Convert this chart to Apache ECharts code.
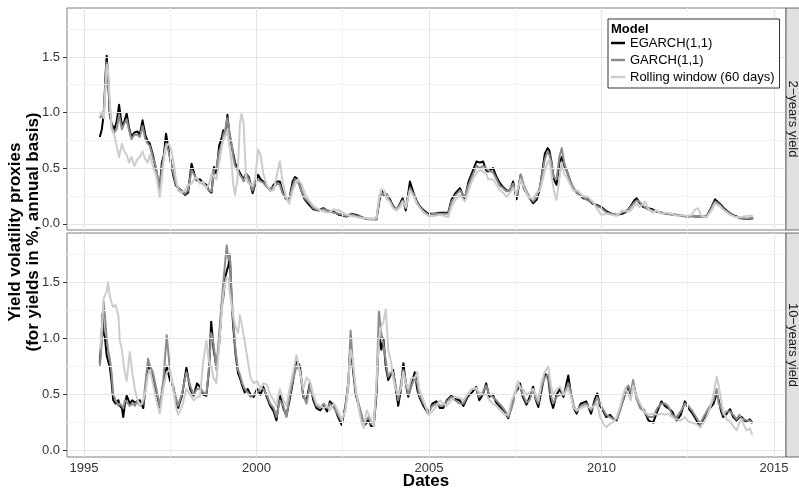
<!DOCTYPE html>
<html><head><meta charset="utf-8">
<script src="https://cdn.jsdelivr.net/npm/echarts@6/dist/echarts.min.js"></script>
<style>html,body{margin:0;padding:0;background:#fff}#c{width:799px;height:490px}</style>
</head><body><div id="c"></div>
<script>
// ---------- data ----------
const seriesNames = ['EGARCH(1,1)', 'GARCH(1,1)', 'Rolling window (60 days)'];
const panelNames = ['2\u2212years yield', '10\u2212years yield'];
const xTickLabels = [1995, 2000, 2005, 2010, 2015];
const yTickLabels = [0, 0.5, 1.0, 1.5];

// 2-years yield panel
const years2 = [
1995.46,1995.52,1995.58,1995.63,1995.66,1995.70,1995.75,1995.80,1995.88,1995.95,
1996.02,1996.10,1996.17,1996.24,1996.31,1996.38,1996.46,1996.55,1996.62,1996.70,
1996.78,1996.85,1996.91,1997.00,1997.08,1997.14,1997.20,1997.26,1997.32,1997.38,
1997.45,1997.52,1997.60,1997.66,1997.73,1997.82,1997.93,1998.02,1998.12,1998.20,
1998.27,1998.36,1998.45,1998.55,1998.62,1998.70,1998.77,1998.84,1998.92,1999.00,
1999.04,1999.10,1999.16,1999.22,1999.28,1999.33,1999.38,1999.45,1999.52,1999.57,
1999.63,1999.70,1999.78,1999.89,1999.96,2000.05,2000.12,2000.20,2000.30,2000.40,
2000.50,2000.60,2000.68,2000.75,2000.85,2000.95,2001.05,2001.12,2001.20,2001.30,
2001.40,2001.50,2001.65,2001.80,2001.94,2002.10,2002.23,2002.40,2002.61,2002.75,
2002.90,2003.05,2003.19,2003.35,2003.48,2003.56,2003.63,2003.70,2003.78,2003.87,
2003.96,2004.06,2004.16,2004.24,2004.33,2004.45,2004.55,2004.65,2004.74,2004.85,
2004.98,2005.15,2005.32,2005.45,2005.56,2005.66,2005.78,2005.90,2006.04,2006.15,
2006.24,2006.38,2006.48,2006.57,2006.66,2006.72,2006.86,2006.96,2007.06,2007.15,
2007.25,2007.35,2007.44,2007.54,2007.66,2007.75,2007.88,2008.02,2008.12,2008.22,
2008.30,2008.36,2008.44,2008.49,2008.55,2008.62,2008.70,2008.78,2008.85,2008.92,
2008.99,2009.10,2009.18,2009.30,2009.47,2009.60,2009.75,2009.86,2010.00,2010.15,
2010.30,2010.44,2010.60,2010.73,2010.85,2010.95,2011.02,2011.10,2011.21,2011.26,
2011.35,2011.48,2011.60,2011.75,2011.89,2012.05,2012.18,2012.35,2012.47,2012.62,
2012.72,2012.80,2012.90,2013.05,2013.19,2013.29,2013.36,2013.43,2013.55,2013.68,
2013.80,2013.92,2014.05,2014.20,2014.30,2014.40];
const egarch2 = [
0.78,0.85,1.00,1.35,1.51,1.30,0.98,0.90,0.85,0.92,
1.07,0.88,0.92,0.99,0.86,0.78,0.82,0.83,0.80,0.93,
0.80,0.74,0.72,0.62,0.50,0.40,0.33,0.55,0.62,0.81,
0.68,0.55,0.42,0.35,0.32,0.30,0.26,0.28,0.54,0.45,
0.39,0.40,0.37,0.35,0.30,0.28,0.51,0.45,0.70,0.78,
0.84,0.80,0.98,0.80,0.70,0.63,0.55,0.50,0.46,0.45,
0.40,0.45,0.42,0.275,0.35,0.44,0.40,0.38,0.34,0.30,
0.35,0.38,0.38,0.30,0.23,0.215,0.38,0.42,0.40,0.30,
0.22,0.18,0.13,0.12,0.14,0.11,0.11,0.08,0.065,0.09,
0.08,0.06,0.042,0.04,0.04,0.20,0.30,0.25,0.26,0.22,
0.16,0.125,0.18,0.23,0.12,0.38,0.28,0.20,0.155,0.12,
0.09,0.09,0.10,0.10,0.10,0.22,0.28,0.32,0.22,0.38,
0.45,0.56,0.55,0.56,0.48,0.47,0.50,0.42,0.365,0.33,
0.30,0.30,0.38,0.22,0.44,0.32,0.25,0.185,0.215,0.32,
0.50,0.63,0.68,0.66,0.56,0.40,0.35,0.55,0.60,0.52,
0.48,0.38,0.32,0.28,0.23,0.22,0.18,0.17,0.15,0.11,
0.09,0.08,0.09,0.11,0.16,0.21,0.23,0.19,0.15,0.16,
0.14,0.13,0.11,0.10,0.09,0.085,0.08,0.075,0.065,0.07,
0.065,0.065,0.065,0.065,0.15,0.22,0.20,0.18,0.14,0.105,
0.08,0.065,0.05,0.042,0.045,0.05];
const garch2 = [
0.95,0.98,1.02,1.30,1.45,1.35,1.05,0.88,0.82,0.85,
0.98,0.85,0.90,0.94,0.84,0.76,0.80,0.80,0.78,0.88,
0.76,0.72,0.70,0.60,0.52,0.42,0.30,0.50,0.60,0.72,
0.66,0.55,0.45,0.36,0.33,0.30,0.27,0.30,0.48,0.44,
0.40,0.38,0.36,0.33,0.30,0.29,0.48,0.50,0.65,0.72,
0.80,0.85,0.95,0.82,0.72,0.60,0.52,0.48,0.44,0.42,
0.38,0.45,0.40,0.30,0.36,0.40,0.38,0.37,0.33,0.32,
0.33,0.36,0.35,0.28,0.22,0.22,0.34,0.40,0.38,0.30,
0.23,0.20,0.14,0.12,0.13,0.12,0.10,0.09,0.07,0.085,
0.07,0.06,0.045,0.045,0.045,0.22,0.28,0.26,0.27,0.20,
0.15,0.13,0.17,0.21,0.14,0.32,0.27,0.19,0.15,0.11,
0.08,0.09,0.09,0.09,0.09,0.20,0.26,0.30,0.24,0.35,
0.42,0.52,0.50,0.52,0.50,0.48,0.46,0.40,0.34,0.32,
0.29,0.31,0.36,0.25,0.44,0.35,0.26,0.20,0.24,0.34,
0.48,0.58,0.65,0.62,0.55,0.42,0.40,0.60,0.68,0.55,
0.48,0.38,0.33,0.27,0.24,0.21,0.19,0.16,0.14,0.10,
0.09,0.08,0.10,0.12,0.15,0.19,0.21,0.20,0.16,0.17,
0.13,0.12,0.11,0.10,0.09,0.08,0.08,0.07,0.065,0.07,
0.07,0.065,0.06,0.06,0.14,0.20,0.19,0.17,0.13,0.10,
0.075,0.06,0.05,0.045,0.05,0.05];
const rolling2 = [
0.98,1.00,0.95,1.25,1.43,1.38,1.10,0.85,0.80,0.70,
0.60,0.72,0.65,0.62,0.55,0.60,0.52,0.58,0.60,0.65,
0.58,0.55,0.62,0.52,0.45,0.35,0.24,0.40,0.60,0.70,
0.72,0.68,0.55,0.42,0.30,0.28,0.30,0.35,0.36,0.40,
0.42,0.36,0.38,0.32,0.35,0.45,0.42,0.40,0.55,0.70,
0.75,0.80,0.85,0.70,0.55,0.35,0.26,0.40,0.90,0.99,
0.90,0.40,0.36,0.34,0.40,0.67,0.62,0.45,0.35,0.30,
0.30,0.45,0.56,0.40,0.25,0.18,0.30,0.35,0.40,0.36,
0.28,0.22,0.16,0.13,0.11,0.10,0.13,0.12,0.08,0.07,
0.06,0.05,0.05,0.04,0.05,0.25,0.31,0.30,0.22,0.20,
0.14,0.12,0.15,0.20,0.15,0.30,0.25,0.18,0.14,0.10,
0.07,0.07,0.08,0.07,0.06,0.16,0.22,0.26,0.20,0.30,
0.38,0.46,0.48,0.47,0.45,0.40,0.40,0.35,0.30,0.28,
0.24,0.28,0.32,0.28,0.40,0.33,0.24,0.22,0.28,0.30,
0.40,0.48,0.55,0.58,0.45,0.30,0.215,0.40,0.55,0.45,
0.42,0.35,0.30,0.30,0.25,0.24,0.20,0.14,0.08,0.09,
0.08,0.07,0.12,0.11,0.12,0.16,0.18,0.15,0.18,0.20,
0.14,0.10,0.12,0.09,0.10,0.09,0.07,0.08,0.07,0.08,
0.13,0.14,0.07,0.06,0.12,0.18,0.17,0.16,0.12,0.09,
0.07,0.06,0.06,0.07,0.075,0.065];

// 10-years yield panel
const years10 = [
1995.46,1995.50,1995.54,1995.57,1995.61,1995.66,1995.70,1995.75,1995.80,1995.85,
1995.92,1996.00,1996.04,1996.10,1996.14,1996.19,1996.24,1996.33,1996.40,1996.48,
1996.53,1996.62,1996.72,1996.80,1996.86,1996.92,1997.00,1997.10,1997.20,1997.30,
1997.40,1997.50,1997.59,1997.66,1997.73,1997.85,1997.97,1998.08,1998.18,1998.28,
1998.36,1998.46,1998.55,1998.62,1998.69,1998.76,1998.84,1998.92,1999.00,1999.04,
1999.10,1999.14,1999.19,1999.23,1999.28,1999.33,1999.40,1999.47,1999.52,1999.59,
1999.66,1999.75,1999.83,1999.92,2000.02,2000.12,2000.20,2000.30,2000.40,2000.50,
2000.58,2000.68,2000.78,2000.87,2000.96,2001.05,2001.16,2001.26,2001.36,2001.45,
2001.55,2001.65,2001.74,2001.85,2001.95,2002.05,2002.13,2002.25,2002.37,2002.47,
2002.58,2002.66,2002.73,2002.80,2002.88,2002.98,2003.05,2003.11,2003.20,2003.25,
2003.32,2003.40,2003.48,2003.55,2003.62,2003.68,2003.75,2003.82,2003.90,2003.96,
2004.04,2004.11,2004.19,2004.26,2004.33,2004.40,2004.50,2004.59,2004.66,2004.72,
2004.84,2004.98,2005.10,2005.22,2005.32,2005.41,2005.52,2005.65,2005.76,2005.89,
2006.00,2006.12,2006.25,2006.37,2006.46,2006.56,2006.66,2006.75,2006.85,2006.95,
2007.10,2007.20,2007.30,2007.40,2007.50,2007.58,2007.64,2007.72,2007.83,2007.92,
2008.02,2008.10,2008.17,2008.27,2008.36,2008.46,2008.53,2008.60,2008.70,2008.80,
2008.90,2009.04,2009.12,2009.20,2009.28,2009.40,2009.56,2009.70,2009.80,2009.88,
2009.96,2010.06,2010.14,2010.25,2010.36,2010.44,2010.55,2010.63,2010.70,2010.78,
2010.85,2010.92,2011.00,2011.12,2011.24,2011.36,2011.50,2011.62,2011.74,2011.84,
2011.93,2012.05,2012.18,2012.30,2012.42,2012.52,2012.62,2012.74,2012.86,2012.96,
2013.05,2013.15,2013.25,2013.34,2013.40,2013.47,2013.53,2013.63,2013.73,2013.82,
2013.92,2014.00,2014.07,2014.14,2014.21,2014.30,2014.37];
const egarch10 = [
0.78,0.95,1.22,1.05,1.01,0.85,0.80,0.75,0.62,0.45,
0.42,0.45,0.40,0.38,0.30,0.42,0.49,0.42,0.45,0.43,
0.42,0.45,0.38,0.60,0.78,0.72,0.65,0.50,0.38,0.60,
0.75,0.62,0.57,0.45,0.38,0.50,0.74,0.55,0.49,0.60,
0.57,0.50,0.49,0.70,1.15,0.90,0.75,0.95,1.30,1.37,
1.55,1.60,1.65,1.74,1.35,1.10,0.85,0.69,0.65,0.58,
0.52,0.55,0.50,0.48,0.55,0.50,0.57,0.48,0.40,0.35,
0.27,0.50,0.38,0.31,0.45,0.60,0.81,0.75,0.48,0.45,
0.60,0.45,0.38,0.36,0.40,0.35,0.44,0.40,0.30,0.23,
0.40,0.60,0.95,0.72,0.50,0.38,0.30,0.22,0.25,0.28,
0.22,0.22,0.50,1.05,0.90,1.00,0.75,0.63,0.68,0.72,
0.55,0.40,0.55,0.78,0.60,0.48,0.60,0.70,0.55,0.48,
0.40,0.33,0.42,0.44,0.38,0.38,0.45,0.49,0.46,0.45,
0.40,0.48,0.52,0.57,0.45,0.50,0.60,0.48,0.50,0.43,
0.38,0.35,0.29,0.40,0.52,0.55,0.60,0.48,0.41,0.48,
0.57,0.45,0.39,0.55,0.69,0.65,0.45,0.38,0.50,0.55,
0.48,0.67,0.50,0.38,0.33,0.42,0.44,0.33,0.45,0.51,
0.40,0.35,0.30,0.32,0.28,0.27,0.38,0.45,0.52,0.57,
0.50,0.60,0.50,0.40,0.36,0.27,0.25,0.35,0.44,0.40,
0.38,0.35,0.27,0.32,0.44,0.38,0.34,0.28,0.21,0.28,
0.33,0.38,0.42,0.51,0.45,0.35,0.30,0.33,0.37,0.30,
0.27,0.30,0.30,0.27,0.26,0.28,0.25];
const garch10 = [
0.75,0.90,1.10,1.33,1.20,1.00,0.90,0.82,0.70,0.50,
0.45,0.40,0.42,0.40,0.38,0.45,0.45,0.40,0.42,0.40,
0.44,0.40,0.42,0.65,0.82,0.75,0.70,0.55,0.40,0.62,
1.03,0.70,0.55,0.48,0.40,0.52,0.70,0.58,0.50,0.55,
0.55,0.52,0.50,0.72,1.05,0.95,0.72,1.05,1.35,1.50,
1.70,1.83,1.70,1.75,1.40,1.15,0.88,0.72,0.68,0.60,
0.55,0.52,0.48,0.50,0.52,0.55,0.55,0.50,0.42,0.38,
0.30,0.45,0.40,0.30,0.48,0.62,0.75,0.72,0.50,0.42,
0.58,0.48,0.40,0.38,0.42,0.38,0.42,0.38,0.32,0.26,
0.38,0.55,1.07,0.75,0.52,0.40,0.32,0.24,0.28,0.30,
0.24,0.23,0.55,1.25,1.05,0.95,0.80,0.66,0.70,0.70,
0.58,0.45,0.60,0.72,0.62,0.50,0.58,0.65,0.60,0.50,
0.42,0.35,0.40,0.42,0.40,0.40,0.44,0.48,0.45,0.42,
0.42,0.50,0.55,0.55,0.48,0.52,0.58,0.50,0.48,0.45,
0.40,0.36,0.30,0.38,0.50,0.58,0.58,0.50,0.43,0.45,
0.55,0.46,0.42,0.58,0.65,0.68,0.50,0.42,0.48,0.50,
0.50,0.60,0.52,0.40,0.35,0.40,0.42,0.36,0.42,0.48,
0.42,0.36,0.32,0.30,0.28,0.28,0.36,0.45,0.55,0.58,
0.52,0.63,0.48,0.38,0.35,0.30,0.30,0.38,0.42,0.42,
0.40,0.32,0.30,0.35,0.42,0.40,0.36,0.30,0.24,0.30,
0.35,0.40,0.45,0.55,0.42,0.38,0.32,0.35,0.35,0.32,
0.28,0.32,0.28,0.28,0.27,0.27,0.24];
const rolling10 = [
0.90,1.00,1.20,1.35,1.36,1.42,1.50,1.38,1.32,1.28,
1.30,1.20,0.98,0.90,0.80,0.69,0.62,0.88,0.70,0.54,
0.48,0.40,0.45,0.55,0.68,0.72,0.60,0.45,0.33,0.55,
0.70,0.72,0.55,0.40,0.32,0.40,0.55,0.50,0.45,0.48,
0.48,0.80,0.98,0.80,0.75,0.65,0.60,0.95,1.25,1.40,
1.50,1.55,1.52,1.40,1.30,1.20,1.10,1.05,1.21,1.10,
0.98,0.80,0.65,0.60,0.62,0.55,0.60,0.59,0.50,0.45,
0.40,0.55,0.45,0.40,0.55,0.68,0.85,0.70,0.55,0.65,
0.62,0.50,0.42,0.40,0.38,0.40,0.36,0.42,0.35,0.28,
0.35,0.60,0.90,0.80,0.55,0.35,0.25,0.20,0.36,0.35,
0.28,0.22,0.60,1.00,1.10,1.15,1.26,0.90,0.80,0.65,
0.55,0.50,0.55,0.70,0.60,0.55,0.65,0.65,0.70,0.55,
0.45,0.32,0.35,0.40,0.45,0.42,0.40,0.45,0.48,0.47,
0.45,0.50,0.55,0.56,0.52,0.50,0.50,0.45,0.42,0.40,
0.35,0.32,0.32,0.45,0.52,0.62,0.56,0.55,0.50,0.52,
0.55,0.50,0.45,0.62,0.70,0.75,0.60,0.50,0.55,0.57,
0.50,0.55,0.48,0.38,0.36,0.38,0.40,0.38,0.40,0.42,
0.30,0.24,0.21,0.24,0.26,0.30,0.40,0.50,0.56,0.50,
0.45,0.58,0.50,0.42,0.35,0.32,0.33,0.32,0.33,0.32,
0.33,0.30,0.28,0.27,0.30,0.26,0.25,0.24,0.21,0.25,
0.30,0.38,0.50,0.66,0.58,0.45,0.35,0.28,0.26,0.22,
0.18,0.25,0.28,0.22,0.18,0.20,0.14];

// ---------- chart ----------
const FONT = '"Liberation Sans", Arial, Helvetica, sans-serif';
const X_MIN = 1994.51, X_MAX = 2015.35;
const Y_MIN = -0.056, Y_MAX = 1.94;
const xMinor = [1997.5, 2002.5, 2007.5, 2012.5];
const yMinor = [0.25, 0.75, 1.25, 1.75];
const colors = ['#000000', '#8c8c8c', '#cccccc'];
const zip = (xs, ys) => xs.map((x, i) => [x, ys[i]]);

const panels = [
  { years: years2, vals: [egarch2, garch2, rolling2], top: 8, height: 222 },
  { years: years10, vals: [egarch10, garch10, rolling10], top: 233, height: 224 }
];

const grids = [], xAxes = [], yAxes = [], series = [];
panels.forEach((p, i) => {
  grids.push({ left: 67, right: 13, top: p.top, height: p.height, show: true,
    borderColor: '#7f7f7f', borderWidth: 1, backgroundColor: '#fff', containLabel: false });
  xAxes.push({ type: 'value', gridIndex: i, min: X_MIN, max: X_MAX,
    splitLine: { show: false }, axisLine: { show: false },
    axisTick: { show: i === 1, customValues: xTickLabels, length: 4, lineStyle: { color: '#333' } },
    axisLabel: { show: i === 1, customValues: xTickLabels, margin: 5, fontSize: 13, color: '#333',
      fontFamily: FONT, formatter: v => String(Math.round(v)) } });
  yAxes.push({ type: 'value', gridIndex: i, min: Y_MIN, max: Y_MAX,
    splitLine: { show: false }, axisLine: { show: false },
    axisTick: { show: true, customValues: yTickLabels, length: 4, lineStyle: { color: '#333' } },
    axisLabel: { show: true, customValues: yTickLabels, margin: 7, fontSize: 13, color: '#333',
      fontFamily: FONT, formatter: v => Number(v).toFixed(1) } });
  const ml = [];
  xMinor.forEach(v => ml.push({ xAxis: v, lineStyle: { color: '#f3f3f3', width: 1, type: 'solid' } }));
  yMinor.forEach(v => ml.push({ yAxis: v, lineStyle: { color: '#f3f3f3', width: 1, type: 'solid' } }));
  xTickLabels.forEach(v => ml.push({ xAxis: v, lineStyle: { color: '#e5e5e5', width: 1, type: 'solid' } }));
  yTickLabels.forEach(v => ml.push({ yAxis: v, lineStyle: { color: '#e5e5e5', width: 1, type: 'solid' } }));
  series.push({ type: 'line', name: '_grid' + i, xAxisIndex: i, yAxisIndex: i, data: [], z: 1,
    silent: true, animation: false,
    markLine: { silent: true, symbol: ['none', 'none'], label: { show: false }, animation: false,
      emphasis: { disabled: true }, data: ml } });
  seriesNames.forEach((n, k) => {
    series.push({ type: 'line', name: n, xAxisIndex: i, yAxisIndex: i, z: 3 + k,
      data: zip(p.years, p.vals[k]), showSymbol: false, symbol: 'none', animation: false,
      lineStyle: { color: colors[k], width: 2, join: 'round' }, itemStyle: { color: colors[k] },
      emphasis: { disabled: true } });
  });
});

const chart = echarts.init(document.getElementById('c'), null, { renderer: 'canvas', devicePixelRatio: 1 });
chart.setOption({
  animation: false,
  backgroundColor: '#fff',
  grid: grids, xAxis: xAxes, yAxis: yAxes, series: series,
  legend: { data: seriesNames, orient: 'vertical', left: 608, top: 19, z: 20,
    backgroundColor: '#fff', borderColor: '#333', borderWidth: 1, padding: [17, 5, 4, 3],
    itemGap: 3, itemWidth: 14, itemHeight: 2.5, icon: 'rect', selectedMode: false,
    textStyle: { fontSize: 13, lineHeight: 14, color: '#000', fontFamily: FONT } },
  graphic: [
    { type: 'text', z: 50, x: 611, y: 29,
      style: { text: 'Model', font: 'bold 13px ' + FONT, fill: '#000', align: 'left', verticalAlign: 'middle' } },
    { type: 'rect', z: 10, shape: { x: 786, y: 8, width: 14, height: 222 },
      style: { fill: '#e0e0e0', stroke: '#4d4d4d', lineWidth: 0.8 } },
    { type: 'rect', z: 10, shape: { x: 786, y: 233, width: 14, height: 224 },
      style: { fill: '#e0e0e0', stroke: '#4d4d4d', lineWidth: 0.8 } },
    { type: 'text', z: 11, x: 793, y: 119, rotation: -Math.PI / 2,
      style: { text: panelNames[0], font: '13px ' + FONT, fill: '#1a1a1a', align: 'center', verticalAlign: 'middle' } },
    { type: 'text', z: 11, x: 793, y: 345, rotation: -Math.PI / 2,
      style: { text: panelNames[1], font: '13px ' + FONT, fill: '#1a1a1a', align: 'center', verticalAlign: 'middle' } },
    { type: 'text', z: 11, x: 24, y: 232, rotation: Math.PI / 2,
      style: { text: 'Yield volatility proxies\n(for yields in %, annual basis)', font: 'bold 17px ' + FONT,
        lineHeight: 18, fill: '#000', align: 'center', verticalAlign: 'middle' } },
    { type: 'text', z: 11, x: 426, y: 481,
      style: { text: 'Dates', font: 'bold 17px ' + FONT, fill: '#000', align: 'center', verticalAlign: 'middle' } }
  ]
});
</script></body></html>
